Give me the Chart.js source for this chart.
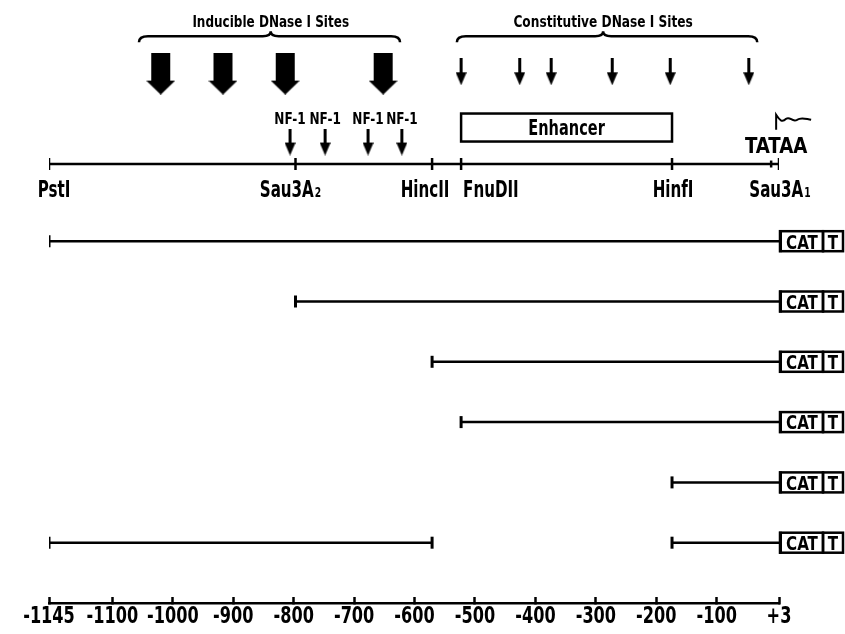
<!DOCTYPE html>
<html lang="en">
<head>
<meta charset="UTF-8">
<title>DNase I sites and CAT constructs</title>
<style>
  body { margin: 0; background: #fff; }
  #wrap { width: 845px; height: 634px; }
</style>
</head>
<body>
<div id="wrap"><canvas id="map"></canvas></div>
<script src="https://cdn.jsdelivr.net/npm/chart.js@4.4.1/dist/chart.umd.min.js"></script>
<script>
// positions in bp, relative to the cap site
const siteNames = ['PstI', 'Sau3A', 'HincII', 'FnuDII', 'HinfI', 'Sau3A'];
const siteSubs = ['', '2', '', '', '', '1'];
const sitePos = [-1145, -797, -571, -523, -174, 3];
const tataPos = -10;
const inducibleSites = [-1020, -917, -814, -652];
const constitutiveSites = [-523, -426, -374, -273, -177, -47];
const nf1Sites = [-806, -748, -677, -621];
const inducibleSpan = [-1056, -838, -624];
const constitutiveSpan = [-530, -288, -33];
const enhancerSpan = [-523, -174];
// each construct: segments fused to CAT at +3
const constructs = [
  [[-1145, 3]],
  [[-797, 3]],
  [[-571, 3]],
  [[-523, 3]],
  [[-174, 3]],
  [[-1145, -571], [-174, 3]]
];
const axisTicks = [-1145, -1100, -1000, -900, -800, -700, -600, -500, -400, -300, -200, -100, 3];

// left end of the map is not to scale (-1145 .. -1100 is stretched)
function pos(bp) { return bp < -1100 ? -1100 + (bp + 1100) * 2.33 : bp; }

const FONT = '"DejaVu Sans Condensed", "Liberation Sans Narrow", sans-serif';
const ROW = { title: -2.65, brace: -2.4, bigArrow: -1.78, thinArrow: -1.81, nfLabel: -1.04, nfArrow: -0.645,
  enhancer: -0.885, tata: -0.6, squiggle: -0.98, map: -0.28, siteLabel: 0.126, axisLabel: 7.2 };
const siteLabelShift = [5, -5, -7, 2, 1, 1];
const siteLabelAlign = ['center', 'center', 'center', 'left', 'center', 'center'];

function arrowCanvas(w, h, shaft, headH) {
  const cv = document.createElement('canvas');
  cv.width = w; cv.height = h;
  const g = cv.getContext('2d');
  g.fillStyle = '#000';
  g.fillRect((w - shaft) / 2, 0, shaft, h - headH + 1);
  g.beginPath();
  g.moveTo(0, h - headH); g.lineTo(w, h - headH); g.lineTo(w / 2, h); g.closePath();
  g.fill();
  return cv;
}
const bigArrow = arrowCanvas(29, 42, 19, 14);
const thinArrow = arrowCanvas(11, 27, 3, 13);

const datasets = [];
// restriction map
const mapPts = sitePos.map(v => ({ x: pos(v), y: ROW.map, r: 6 }));
mapPts.push({ x: pos(tataPos), y: ROW.map, r: 3.5 });
mapPts.sort((a, b) => a.x - b.x);
datasets.push({ data: mapPts, showLine: true, borderColor: '#000', borderWidth: 2.5,
  pointStyle: 'line', rotation: 90, pointBorderWidth: 2.5, pointBorderColor: '#000',
  pointRadius: c => c.raw.r });
// constructs
constructs.forEach((segs, i) => {
  segs.forEach(s => {
    datasets.push({ data: [{ x: pos(s[0]), y: i + 1 }, { x: pos(s[1]), y: i + 1 }], showLine: true,
      borderColor: '#000', borderWidth: 2.5, pointStyle: 'line', rotation: 90, pointBorderWidth: 3,
      pointBorderColor: '#000', pointRadius: [6, s[1] === 3 ? 0 : 6] });
  });
});
// DNase I and NF-1 arrows
datasets.push({ data: inducibleSites.map(v => ({ x: pos(v), y: ROW.bigArrow })), pointStyle: bigArrow, pointRadius: 10 });
datasets.push({ data: constitutiveSites.map(v => ({ x: pos(v), y: ROW.thinArrow })), pointStyle: thinArrow, pointRadius: 10 });
datasets.push({ data: nf1Sites.map(v => ({ x: pos(v), y: ROW.nfArrow })), pointStyle: thinArrow, pointRadius: 10 });

function brace(c, x1, xm, x2, y) {
  c.beginPath();
  c.moveTo(x1, y + 6);
  c.quadraticCurveTo(x1, y, x1 + 9, y);
  c.lineTo(xm - 8, y);
  c.quadraticCurveTo(xm, y, xm, y - 5);
  c.quadraticCurveTo(xm, y, xm + 8, y);
  c.lineTo(x2 - 9, y);
  c.quadraticCurveTo(x2, y, x2, y + 6);
  c.stroke();
}
// condensed bold text, vertically centred on the capitals
function txt(c, s, x, y, size, sx, align) {
  c.save();
  c.translate(x, y);
  c.scale(sx, 1);
  c.font = 'bold ' + size + 'px ' + FONT;
  c.textAlign = align || 'center';
  c.textBaseline = 'alphabetic';
  c.fillText(s, 0, size * 0.365);
  c.restore();
}
function width(c, s, size, sx) {
  c.font = 'bold ' + size + 'px ' + FONT;
  return c.measureText(s).width * sx;
}
function siteText(c, main, sub, x, y, size, sx, align) {
  const subSize = Math.round(size * 0.6);
  const w1 = width(c, main, size, sx);
  const w2 = sub ? width(c, sub, subSize, sx) + 1 : 0;
  const x0 = align === 'left' ? x : x - (w1 + w2) / 2;
  txt(c, main, x0, y, size, sx, 'left');
  if (sub) txt(c, sub, x0 + w1 + 1, y + size * 0.365 - subSize * 0.365, subSize, sx, 'left');
}

const drawing = {
  id: 'drawing',
  afterDraw(chart) {
    const c = chart.ctx, xs = chart.scales.x, ys = chart.scales.y;
    const px = bp => xs.getPixelForValue(pos(bp));
    const py = r => ys.getPixelForValue(r);
    c.save();
    c.fillStyle = '#000'; c.strokeStyle = '#000';
    c.lineWidth = 2.5;
    // braces + titles
    brace(c, px(inducibleSpan[0]), px(inducibleSpan[1]), px(inducibleSpan[2]), py(ROW.brace));
    brace(c, px(constitutiveSpan[0]), px(constitutiveSpan[1]), px(constitutiveSpan[2]), py(ROW.brace));
    txt(c, 'Inducible DNase I Sites', px(inducibleSpan[1]), py(ROW.title), 16.5, 0.81);
    txt(c, 'Constitutive DNase I Sites', px(constitutiveSpan[1]), py(ROW.title), 16.5, 0.82);
    // NF-1 labels
    nf1Sites.forEach(v => txt(c, 'NF-1', px(v), py(ROW.nfLabel), 16, 0.84));
    // enhancer box
    const ex1 = px(enhancerSpan[0]), ex2 = px(enhancerSpan[1]), ey = py(ROW.enhancer);
    c.strokeRect(ex1, ey - 14, ex2 - ex1, 28);
    txt(c, 'Enhancer', (ex1 + ex2) / 2, ey, 21, 0.77);
    // TATA box
    const tx = px(tataPos) + 5;
    txt(c, 'TATAA', tx, py(ROW.tata), 22, 0.92);
    const sy = py(ROW.squiggle);
    c.lineWidth = 2;
    c.beginPath();
    c.moveTo(tx, sy + 8); c.lineTo(tx, sy - 7);
    c.bezierCurveTo(tx + 4, sy - 1, tx + 6, sy + 1, tx + 10, sy - 3);
    c.bezierCurveTo(tx + 14, sy - 6, tx + 16, sy + 1, tx + 21, sy - 2);
    c.bezierCurveTo(tx + 25, sy - 5, tx + 29, sy - 3, tx + 35, sy - 2);
    c.stroke();
    // site labels
    sitePos.forEach((v, i) => {
      siteText(c, siteNames[i], siteSubs[i], px(v) + siteLabelShift[i], py(ROW.siteLabel), 23, 0.73, siteLabelAlign[i]);
    });
    // CAT-T reporter boxes
    constructs.forEach((segs, i) => {
      const x0 = px(3), y = py(i + 1);
      c.lineWidth = 2.5;
      c.strokeRect(x0 + 1, y - 10, 43, 20);
      c.strokeRect(x0 + 44, y - 10, 20, 20);
      c.fillRect(x0, y - 11, 3, 22);
      txt(c, 'CAT', x0 + 23, y, 20, 0.84);
      txt(c, 'T', x0 + 54, y, 20, 0.84);
    });
    // axis labels under the library's tick marks
    xs.ticks.forEach((t, i) => {
      txt(c, tickLabels[i], xs.getPixelForValue(t.value), py(ROW.axisLabel), 23, 0.78);
    });
    c.restore();
  }
};

const tickLabels = axisTicks.map(v => v > 0 ? '+' + v : String(v));

new Chart(document.getElementById('map'), {
  type: 'scatter',
  data: { datasets: datasets },
  options: {
    responsive: true,
    maintainAspectRatio: false,
    animation: false,
    events: [],
    layout: { autoPadding: false, padding: { left: 49, right: 66, top: 0, bottom: 31 } },
    plugins: { legend: { display: false }, tooltip: { enabled: false } },
    scales: {
      x: {
        type: 'linear',
        min: pos(-1145),
        max: 3,
        afterBuildTicks: s => { s.ticks = axisTicks.map(v => ({ value: pos(v) })); },
        border: { display: true, color: '#000', width: 2.5 },
        grid: { drawOnChartArea: false, tickLength: -6, tickWidth: 2.5, tickColor: '#000' },
        ticks: { display: false }
      },
      y: { type: 'linear', min: -3, max: 7, reverse: true, display: false }
    }
  },
  plugins: [drawing]
});
</script>
</body>
</html>
